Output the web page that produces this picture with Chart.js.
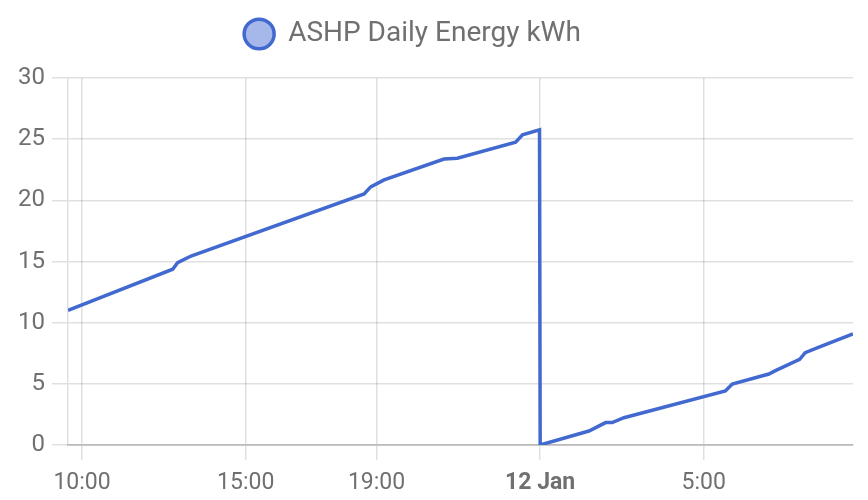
<!DOCTYPE html>
<html>
<head>
<meta charset="utf-8">
<script src="https://cdn.jsdelivr.net/npm/chart.js@4.4.1/dist/chart.umd.min.js"></script>
<style>
  html, body { margin: 0; padding: 0; background: #fff; }
  #wrap { width: 868px; height: 500px; }
</style>
</head>
<body>
<div id="wrap"><canvas id="c"></canvas></div>
<script>
  // hora decimal desde las 0:00 del 11 Jan (24 = medianoche del 12 Jan)
  var hours  = [9.57, 12.77, 12.92, 13.33, 18.62, 18.82, 19.23, 21.06, 21.47, 23.25, 23.46, 23.98,
                24.0, 25.49, 26.0, 26.2, 26.56, 29.66, 29.87, 30.99, 31.19, 31.93, 32.1, 32.56, 33.56];
  var energy = [11.0, 14.37, 14.9, 15.45, 20.52, 21.1, 21.67, 23.38, 23.44, 24.75, 25.35, 25.76,
                0, 1.14, 1.83, 1.83, 2.23, 4.41, 4.98, 5.8, 6.08, 7.0, 7.55, 8.04, 9.08];
  var xTickValues = [10, 15, 19, 24, 29];
  var xTickLabels = ['10:00', '15:00', '19:00', '12 Jan', '5:00'];
  var yTickValues = [0, 5, 10, 15, 20, 25, 30];
  var seriesName = 'ASHP Daily Energy kWh';

  var LINE = '#4269d0';
  var GREY = '#707070';

  var points = hours.map(function (h, i) { return { x: h, y: energy[i] }; });

  // ── espacio extra bajo la leyenda y leyenda algo más a la izquierda ──
  var legendGap = {
    id: 'legendGap',
    afterInit: function (chart) {
      var lg = chart.legend; if (!lg) return;
      var fit = lg.fit;
      lg.fit = function () { fit.call(this); this.height += 20; };
    },
    afterLayout: function (chart) {
      if (chart.legend) chart.legend.right -= 28;
    }
  };

  new Chart(document.getElementById('c'), {
    type: 'line',
    data: {
      datasets: [{
        label: seriesName,
        data: points,
        borderColor: LINE,
        backgroundColor: 'rgba(66,105,208,0.47)',
        borderWidth: 3.5,
        pointRadius: 0,
        fill: false,
        tension: 0
      }]
    },
    plugins: [legendGap],
    options: {
      responsive: true,
      maintainAspectRatio: false,
      animation: false,
      layout: { padding: { left: 0, right: 15, top: 0, bottom: 0 } },
      plugins: {
        legend: {
          labels: {
            usePointStyle: true,
            pointStyle: 'circle',
            pointStyleWidth: 30,
            boxHeight: 21,
            padding: 20,
            color: GREY,
            font: { family: 'Roboto', size: 28 }
          }
        },
        tooltip: { enabled: false }
      },
      scales: {
        x: {
          type: 'linear',
          min: hours[0],
          max: hours[hours.length - 1],
          afterBuildTicks: function (s) { s.ticks = xTickValues.map(function (v) { return { value: v }; }); },
          afterFit: function (s) { s.height = 55; },
          ticks: {
            color: GREY,
            padding: 9,
            maxRotation: 0,
            autoSkip: false,
            font: function (c) {
              var bold = c.tick && xTickLabels[xTickValues.indexOf(c.tick.value)] === '12 Jan';
              return { family: 'Roboto', size: 23, weight: bold ? 'bold' : 'normal' };
            },
            callback: function (v) { var i = xTickValues.indexOf(v); return i >= 0 ? xTickLabels[i] : ''; }
          },
          grid: { color: 'rgba(0,0,0,0.12)', tickLength: 15, lineWidth: 1.5 },
          border: { color: 'rgba(0,0,0,0.17)', width: 2 }
        },
        y: {
          min: 0,
          max: 30,
          afterBuildTicks: function (s) { s.ticks = yTickValues.map(function (v) { return { value: v }; }); },
          afterFit: function (s) { s.width = 68; },
          ticks: {
            color: GREY,
            padding: 7,
            font: { family: 'Roboto', size: 24 }
          },
          grid: { color: 'rgba(0,0,0,0.12)', tickLength: 16, lineWidth: 1.5 },
          border: { color: 'rgba(0,0,0,0.12)', width: 1.5 }
        }
      }
    }
  });
</script>
</body>
</html>
